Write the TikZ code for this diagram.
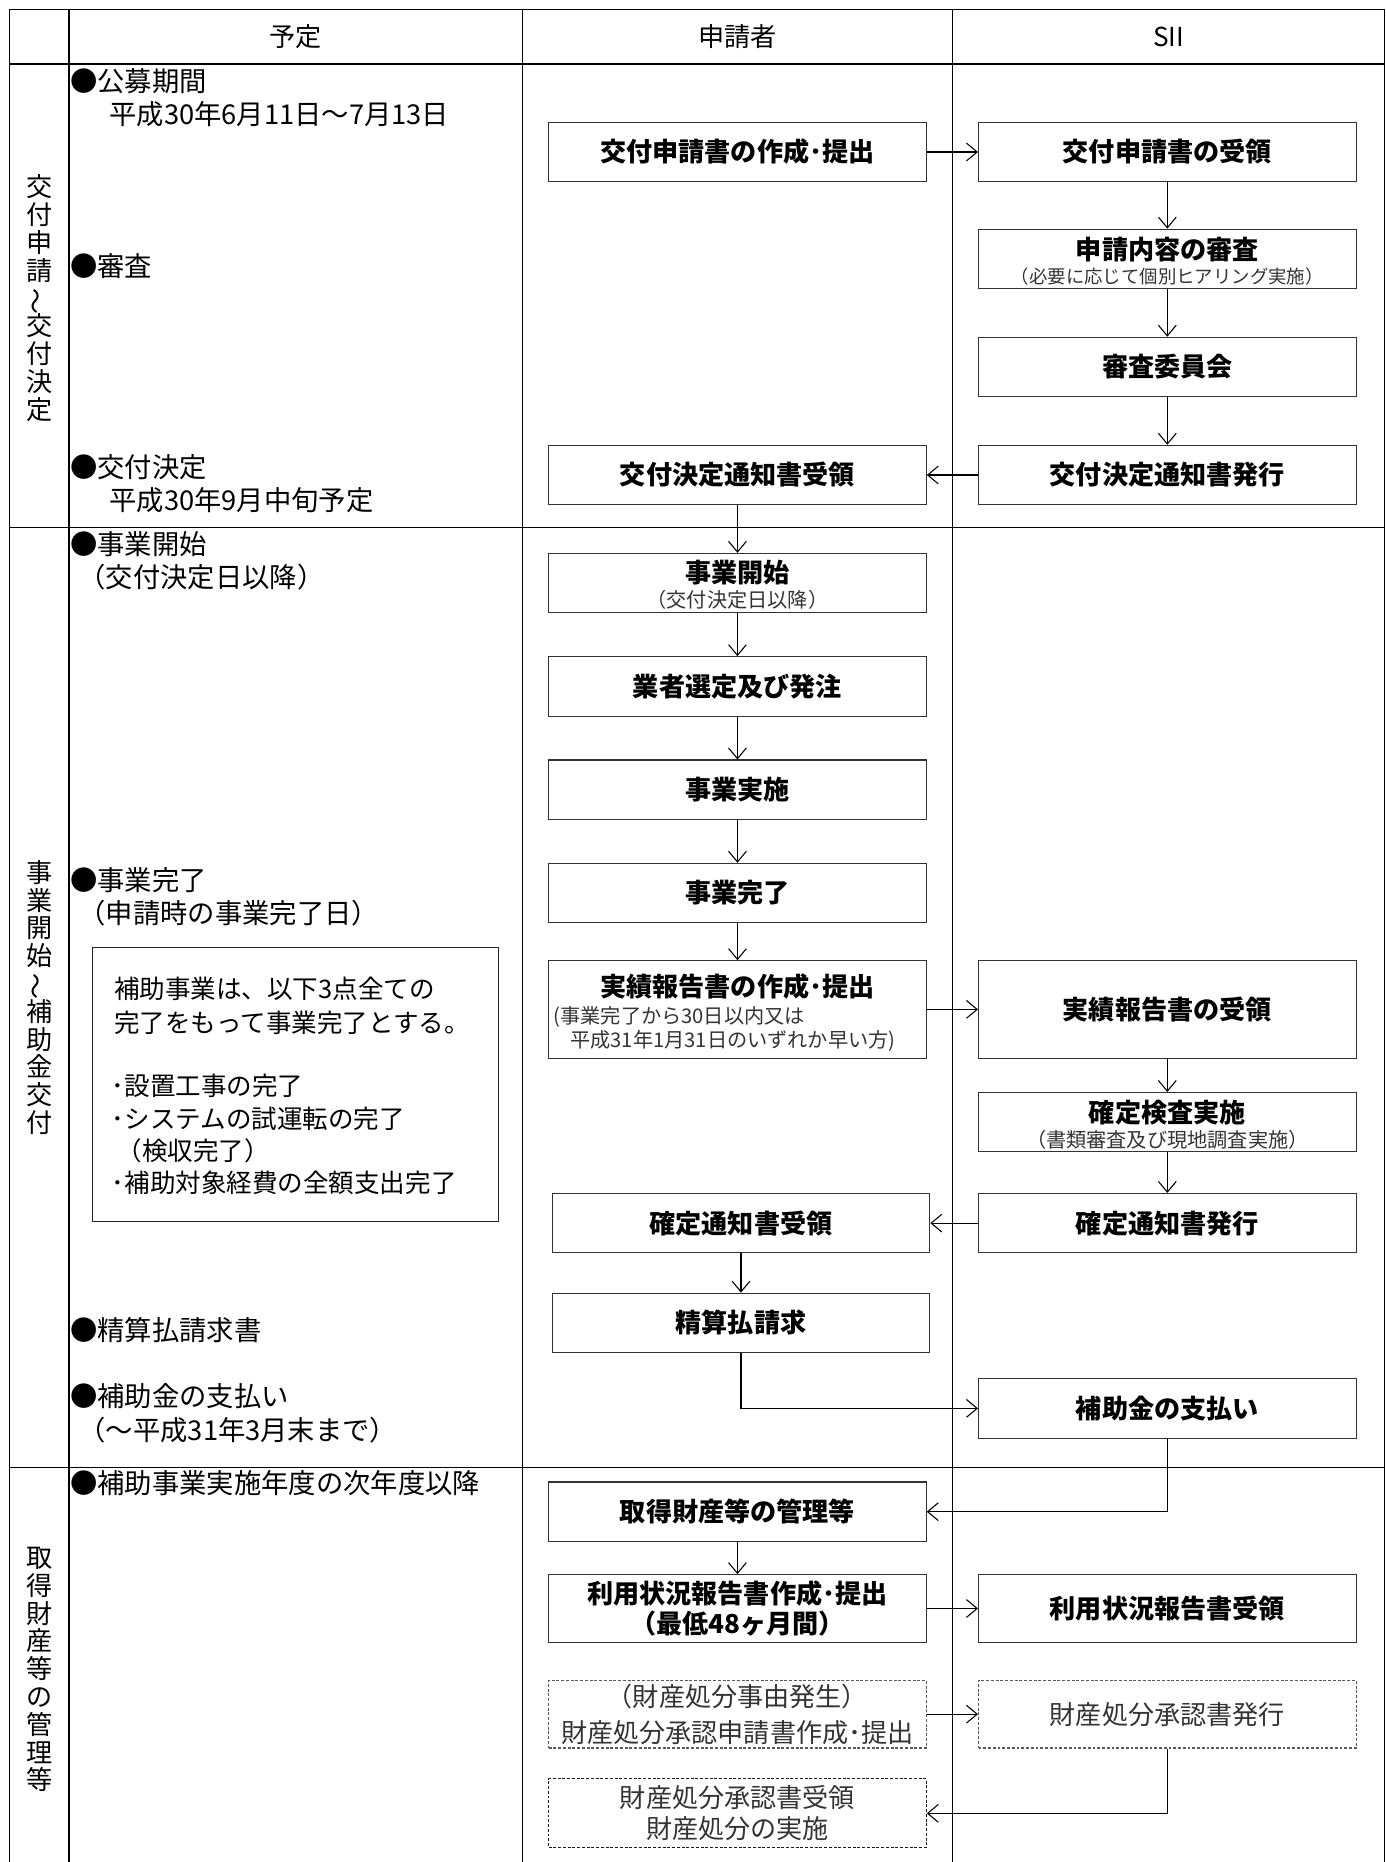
\documentclass[tikz,border=0pt]{standalone}
\usepackage{fontspec}
\usepackage{graphicx}
\setmainfont{Noto Sans CJK JP}
\usetikzlibrary{arrows.meta}
\begin{document}
\begin{tikzpicture}[x=1pt,y=-1pt,
  tline/.style={line width=1.2pt, draw=black},
  box/.style={draw=black!80, line width=0.9pt, minimum width=318pt, minimum height=50pt, inner sep=0pt, font=\fontsize{22}{26}\selectfont\bfseries, align=center},
  dbox/.style={box, draw=black!65, dash pattern=on 2.5pt off 1.5pt, font=\fontsize{22}{30}\selectfont, text=black!80},
  subt/.style={font=\fontsize{17}{19}\selectfont, text=black!80, inner sep=0pt},
  ttl/.style={font=\fontsize{22}{26}\selectfont\bfseries, inner sep=0pt},
  lt/.style={font=\fontsize{23}{28}\selectfont, anchor=west, inner sep=0pt},
  nt/.style={font=\fontsize{21.5}{27}\selectfont, anchor=west, inner sep=0pt},
  hdr/.style={font=\fontsize{22}{26}\selectfont, inner sep=0pt},
  vlab/.style={font=\fontsize{22}{23.4}\selectfont, align=center, inner sep=0pt},
  arr/.style={-{Straight Barb[length=9pt,width=15pt]}, line width=0.9pt},
]
\useasboundingbox (0,0) rectangle (1167,1568);
% table
\draw[tline] (8,1568) -- (8,8) -- (1166,8) -- (1166,1568);
\draw[tline] (8,54) -- (1166,54);
\draw[tline] (8,444) -- (1166,444);
\draw[tline] (8,1236) -- (1166,1236);
\draw[tline] (58,8) -- (58,1568);
\draw[tline] (440,8) -- (440,1568);
\draw[tline] (802,8) -- (802,1568);
% headers
\node[hdr] (h1) at (249,31) {予定};
\node[hdr] (h2) at (621,31) {申請者};
\node[hdr] (h3) at (984,31) {SII};
% vertical labels
\node[vlab] (v1) at (33,251) {交\\付\\申\\請\\\smash{\rotatebox[origin=c]{90}{～}}\\交\\付\\決\\定};
\node[vlab] (v2) at (33,840) {事\\業\\開\\始\\\smash{\rotatebox[origin=c]{90}{～}}\\補\\助\\金\\交\\付};
\node[vlab] (v3) at (33,1406) {取\\得\\財\\産\\等\\の\\管\\理\\等};
% schedule texts
\node[lt] (t1) at (59,68) {●公募期間};
\node[lt] (t2) at (92,96) {平成30年6月11日～7月13日};
\node[lt] (t3) at (59,224) {●審査};
\node[lt] (t4) at (59,393) {●交付決定};
\node[lt] (t5) at (92,421) {平成30年9月中旬予定};
\node[lt] (t6) at (59,458) {●事業開始};
\node[lt] (t7) at (66,486) {（交付決定日以降）};
\node[lt] (t8) at (59,741) {●事業完了};
\node[lt] (t9) at (66,769) {（申請時の事業完了日）};
\node[lt] (t10) at (59,1120) {●精算払請求書};
\node[lt] (t11) at (59,1176) {●補助金の支払い};
\node[lt] (t12) at (66,1204) {（～平成31年3月末まで）};
\node[lt] (t13) at (59,1249) {●補助事業実施年度の次年度以降};
% note box
\node[draw=black!85, line width=0.9pt, minimum width=342pt, minimum height=231pt, inner sep=0pt] (note) at (249,913.5) {};
\node[nt] (n1) at (96,833) {補助事業は、以下3点全ての};
\node[nt] (n2) at (96,861) {完了をもって事業完了とする。};
\node[nt] (n3) at (94,914) {･設置工事の完了};
\node[nt] (n4) at (94,942) {･システムの試運転の完了};
\node[nt] (n5) at (98,969) {（検収完了）};
\node[nt] (n6) at (94,996) {･補助対象経費の全額支出完了};
% applicant boxes
\node[box] (a1) at (621,128) {交付申請書の作成･提出};
\node[box] (a2) at (621,400) {交付決定通知書受領};
\node[box] (a3) at (621,491) {};
\node[ttl] (a3t) at (621,482) {事業開始};
\node[subt] (a3s) at (621,505) {（交付決定日以降）};
\node[box] (a4) at (621,578) {業者選定及び発注};
\node[box] (a5) at (621,665) {事業実施};
\node[box] (a6) at (621,752) {事業完了};
\node[box, minimum height=82pt] (a7) at (621,850) {};
\node[ttl] (a7t) at (621,831) {実績報告書の作成･提出};
\node[subt, anchor=west] (a7s1) at (466,856) {(事業完了から30日以内又は};
\node[subt, anchor=west] (a7s2) at (480,877) {平成31年1月31日のいずれか早い方)};
\node[box] (a8) at (624,1030) {確定通知書受領};
\node[box] (a9) at (624,1114) {精算払請求};
\node[box] (a10) at (621,1273) {取得財産等の管理等};
\node[box, minimum height=57pt] (a11) at (621,1354.5) {利用状況報告書作成･提出\\（最低48ヶ月間）};
\node[dbox, minimum height=57pt] (a12) at (621,1443.5) {（財産処分事由発生）\\財産処分承認申請書作成･提出};
\node[dbox, draw=black!90, minimum height=58pt, font=\fontsize{22}{26}\selectfont] (a13) at (621,1527) {財産処分承認書受領\\財産処分の実施};
% SII boxes
\node[box] (s1) at (983,128) {交付申請書の受領};
\node[box] (s2) at (983,218) {};
\node[ttl] (s2t) at (983,210) {申請内容の審査};
\node[subt, font=\fontsize{15.5}{18}\selectfont] (s2s) at (983,233) {（必要に応じて個別ヒアリング実施）};
\node[box] (s3) at (983,309) {審査委員会};
\node[box] (s4) at (983,400) {交付決定通知書発行};
\node[box, minimum height=82pt] (s5) at (983,850) {実績報告書の受領};
\node[box] (s6) at (983,945) {};
\node[ttl] (s6t) at (983,937) {確定検査実施};
\node[subt] (s6s) at (983,960) {（書類審査及び現地調査実施）};
\node[box] (s7) at (983,1030) {確定通知書発行};
\node[box] (s8) at (983,1186) {補助金の支払い};
\node[box, minimum height=57pt] (s9) at (983,1354.5) {利用状況報告書受領};
\node[dbox, minimum height=57pt] (s10) at (983,1443.5) {財産処分承認書発行};
% arrows
\draw[arr] (a1.east) -- (s1.west);
\draw[arr] (s1.south) -- (s2.north);
\draw[arr] (s2.south) -- (s3.north);
\draw[arr] (s3.south) -- (s4.north);
\draw[arr] (s4.west) -- (a2.east);
\draw[arr] (a2.south) -- (a3.north);
\draw[arr] (a3.south) -- (a4.north);
\draw[arr] (a4.south) -- (a5.north);
\draw[arr] (a5.south) -- (a6.north);
\draw[arr] (a6.south) -- (a7.north);
\draw[arr] (a7.east) -- (s5.west);
\draw[arr] (s5.south) -- (s6.north);
\draw[arr] (s6.south) -- (s7.north);
\draw[arr] (s7.west) -- (a8.east);
\draw[arr] (a8.south) -- (a9.north);
\draw[arr] (a9.south) |- (s8.west);
\draw[arr] (s8.south) |- (a10.east);
\draw[arr] (a10.south) -- (a11.north);
\draw[arr] (a11.east) -- (s9.west);
\draw[arr] (a12.east) -- (s10.west);
\draw[arr] (s10.south) |- (a13.east);
\end{tikzpicture}
\end{document}
